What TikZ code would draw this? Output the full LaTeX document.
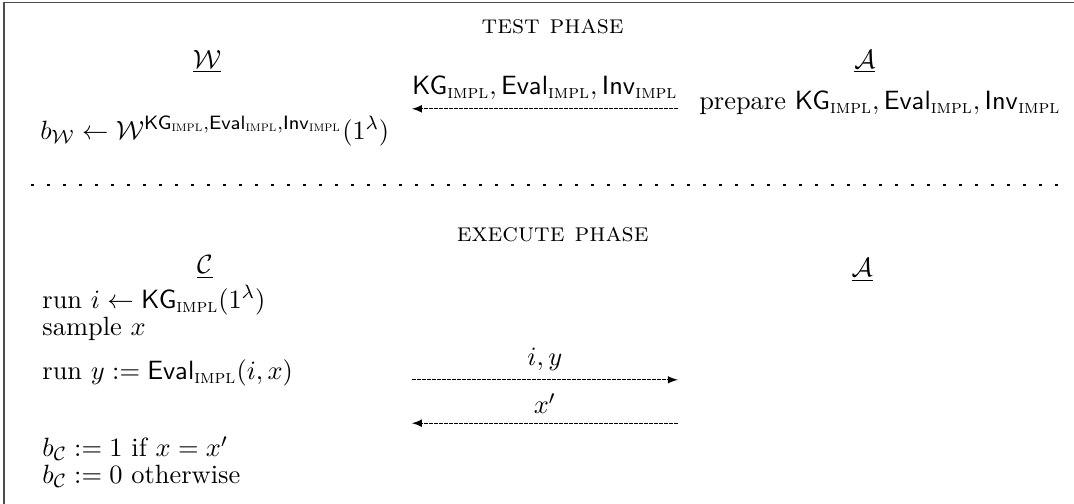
\documentclass[tikz,border=0pt,11pt]{standalone}
\usepackage{amsmath}
\usetikzlibrary{positioning}

\newcommand{\impl}{\text{\textsc{impl}}}
\newcommand{\KGi}{\mathsf{KG}_{\impl}}
\newcommand{\Evali}{\mathsf{Eval}_{\impl}}
\newcommand{\Invi}{\mathsf{Inv}_{\impl}}

\tikzset{
  every node/.append style={scale=0.965},
  msg/.style={-latex, dash pattern=on 1.6pt off 0.4pt},
  party/.style={inner sep=1pt},
  line/.style={anchor=west, inner sep=0pt}
}

\begin{document}
\begin{tikzpicture}
        % Margenes de la figura
        \useasboundingbox (0,0) rectangle (15.10,-7.085);

        % Marco (solo se ven los bordes izquierdo y superior)
        \draw[black!70, line width=0.6pt] (0.056,-7.085) -- (0.056,-0.035) -- (15.10,-0.035);

        % Fase de prueba
        \node (testphase) at (7.77,-0.38) {\textsc{test phase}};
        \node[party] (W) at (2.91,-0.87) {$\underline{\mathcal{W}}$};
        \node[party] (Atest) at (12.16,-0.87) {$\underline{\mathcal{A}}$};
        \node (prepare) at (12.37,-1.45) {prepare $\KGi, \Evali, \Invi$};
        \node[line] (bW) at (0.56,-1.84) {$b_{\mathcal{W}} \leftarrow \mathcal{W}^{\KGi, \Evali, \Invi}(1^\lambda)$};

        \coordinate (tr) at (9.53,-1.53);
        \coordinate (tl) at (5.79,-1.53);
        \draw[msg] (tr) -- node[above] {$\KGi, \Evali, \Invi$} (tl);

        % Separador punteado
        \coordinate (sepl) at (0.44,-2.60);
        \coordinate (sepr) at (14.93,-2.60);
        \draw[line width=1pt, dash pattern=on 1pt off 5.4pt] (sepl) -- (sepr);

        % Fase de ejecucion
        \node (execphase) at (7.77,-3.30) {\textsc{execute phase}};
        \node[party] (C) at (2.88,-3.76) {$\underline{\mathcal{C}}$};
        \node[party] (Aexec) at (12.12,-3.80) {$\underline{\mathcal{A}}$};

        \node[line] (runi) at (0.59,-4.22) {run $i \leftarrow \KGi(1^\lambda)$};
        \node[line] (sample) at (0.59,-4.63) {sample $x$};
        \node[line] (runy) at (0.59,-5.24) {run $y := \Evali(i,x)$};
        \node[line] (bC1) at (0.59,-6.31) {$b_{\mathcal{C}} := 1$ if $x = x'$};
        \node[line] (bC0) at (0.59,-6.70) {$b_{\mathcal{C}} := 0$ otherwise};

        \coordinate (e1l) at (5.79,-5.34);
        \coordinate (e1r) at (9.53,-5.34);
        \coordinate (e2l) at (5.79,-5.95);
        \coordinate (e2r) at (9.53,-5.95);
        \draw[msg] (e1l) -- node[above] {$i, y$} (e1r);
        \draw[msg] (e2r) -- node[above] {$x'$} (e2l);
\end{tikzpicture}
\end{document}
